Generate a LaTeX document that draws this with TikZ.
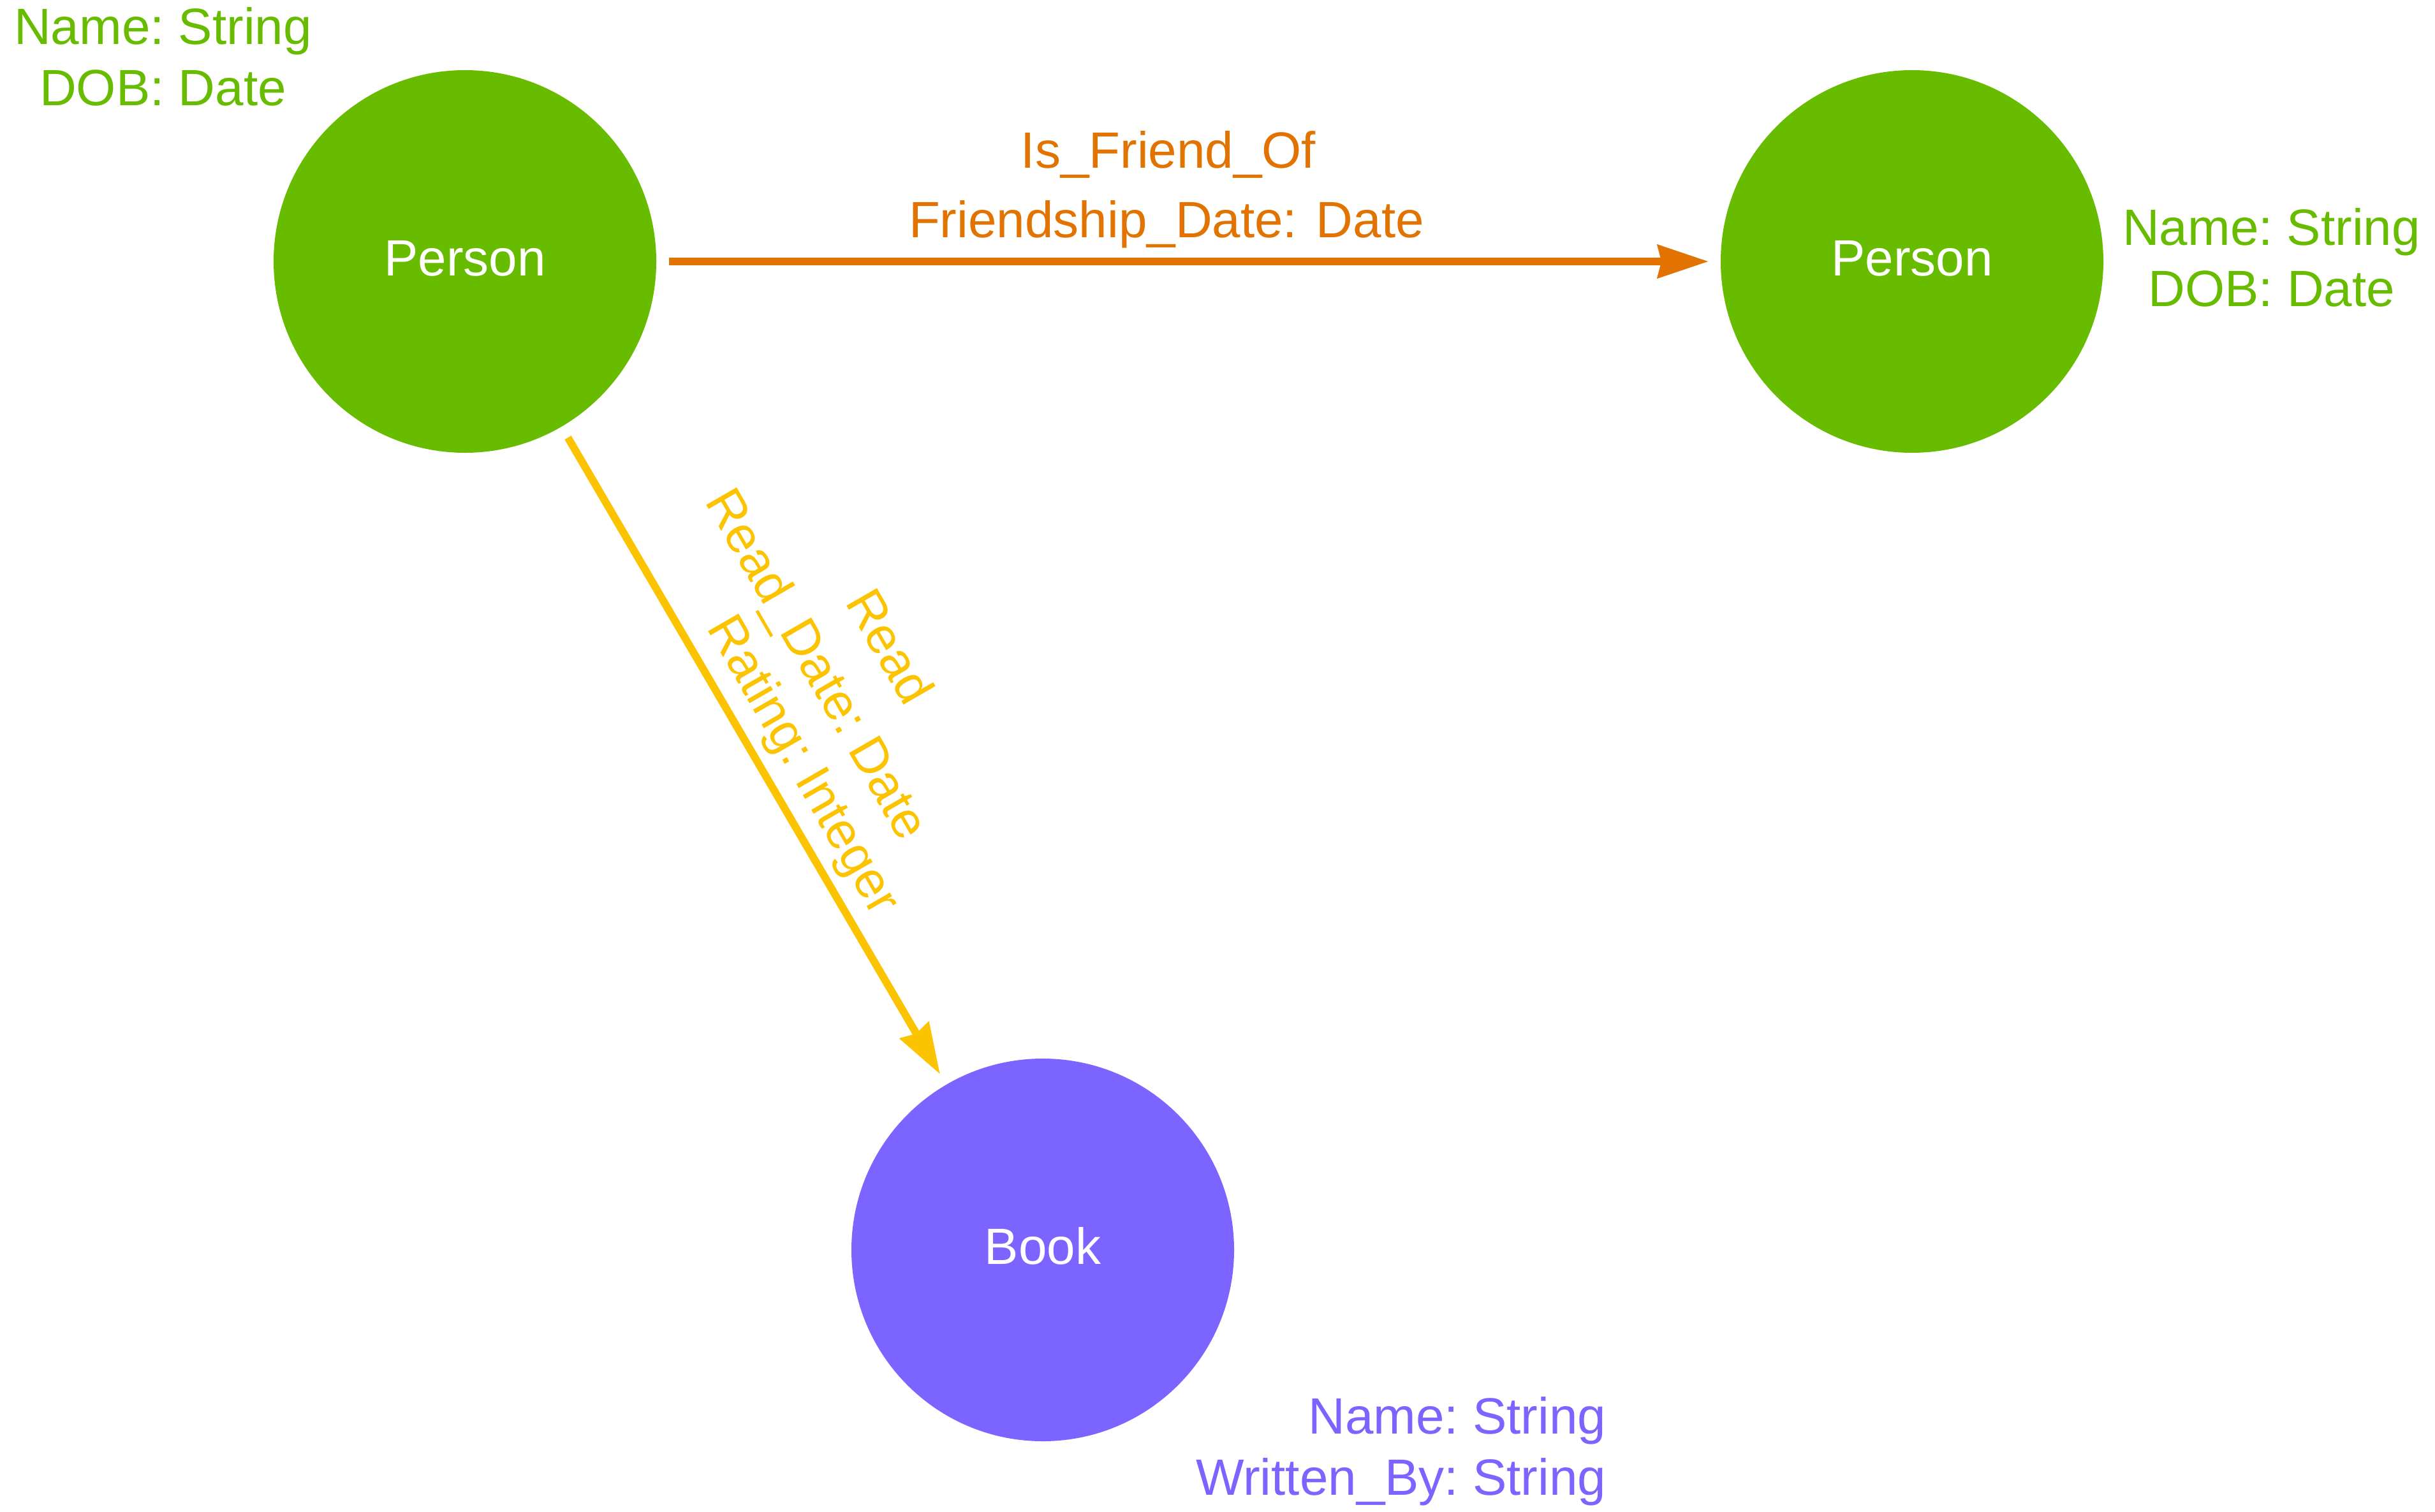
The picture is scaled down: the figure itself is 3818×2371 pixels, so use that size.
\documentclass[tikz,border=0pt]{standalone}
\usepackage{fontspec}
\setmainfont{Liberation Sans}
\usetikzlibrary{arrows.meta}
\definecolor{cgreen}{HTML}{68BC00}
\definecolor{corange}{HTML}{E27300}
\definecolor{cyellow}{HTML}{FCC400}
\definecolor{cpurple}{HTML}{7B64FF}
\begin{document}
\begin{tikzpicture}[x=1pt,y=-1pt,
  every node/.style={font=\fontsize{80}{96}\selectfont, inner sep=0pt},
  entity/.style={circle, minimum size=600pt, inner sep=0pt, outer sep=20pt,
    text=white, text height=62pt, text depth=18pt},
  rel/.style={line width=12pt,
    -{Stealth[length=80pt,width=54pt,inset=7pt,line width=0.5pt]}},
  props/.style={anchor=base west},
  caption/.style={anchor=base}]
\useasboundingbox (0,0) rectangle (3818,2371);
\fill[white] (0,0) rectangle (3818,2371);

% entities
\node[entity, fill=cgreen] (p1) at (729,410) {Person};
\node[entity, fill=cgreen] (p2) at (2998,410) {Person};
\node[entity, fill=cpurple] (book) at (1635,1960) {Book};

% entity properties
\node[props, text=cgreen] (p1props) at (22,70)
  {\begin{tabular}[t]{@{}r@{:\ }l@{}}Name&String\\DOB&Date\end{tabular}};
\node[props, text=cgreen] (p2props) at (3328,384)
  {\begin{tabular}[t]{@{}r@{:\ }l@{}}Name&String\\DOB&Date\end{tabular}};
\node[props, text=cpurple] (bookprops) at (1875,2248)
  {\begin{tabular}[t]{@{}r@{:\ }l@{}}Name&String\\Written\_By&String\end{tabular}};

% relationships
\draw[rel, corange] (p1) -- (p2);
\draw[rel, cyellow] (p1) -- (book);

% relationship labels
\node[caption, text=corange] (fcap) at (1832,263) {Is\_Friend\_Of};
\node[caption, text=corange] (fprops) at (1829,372) {Friendship\_Date: Date};
\node[anchor=base west, rotate=-60, text=cyellow] (rcap) at (1324,944.5) {Read};
\node[anchor=base west, rotate=-60, text=cyellow] (rprops) at (1104,786.5)
  {\begin{tabular}[t]{@{}r@{:\ }l@{}}Read\_Date&Date\\Rating&Integer\end{tabular}};
\end{tikzpicture}
\end{document}
